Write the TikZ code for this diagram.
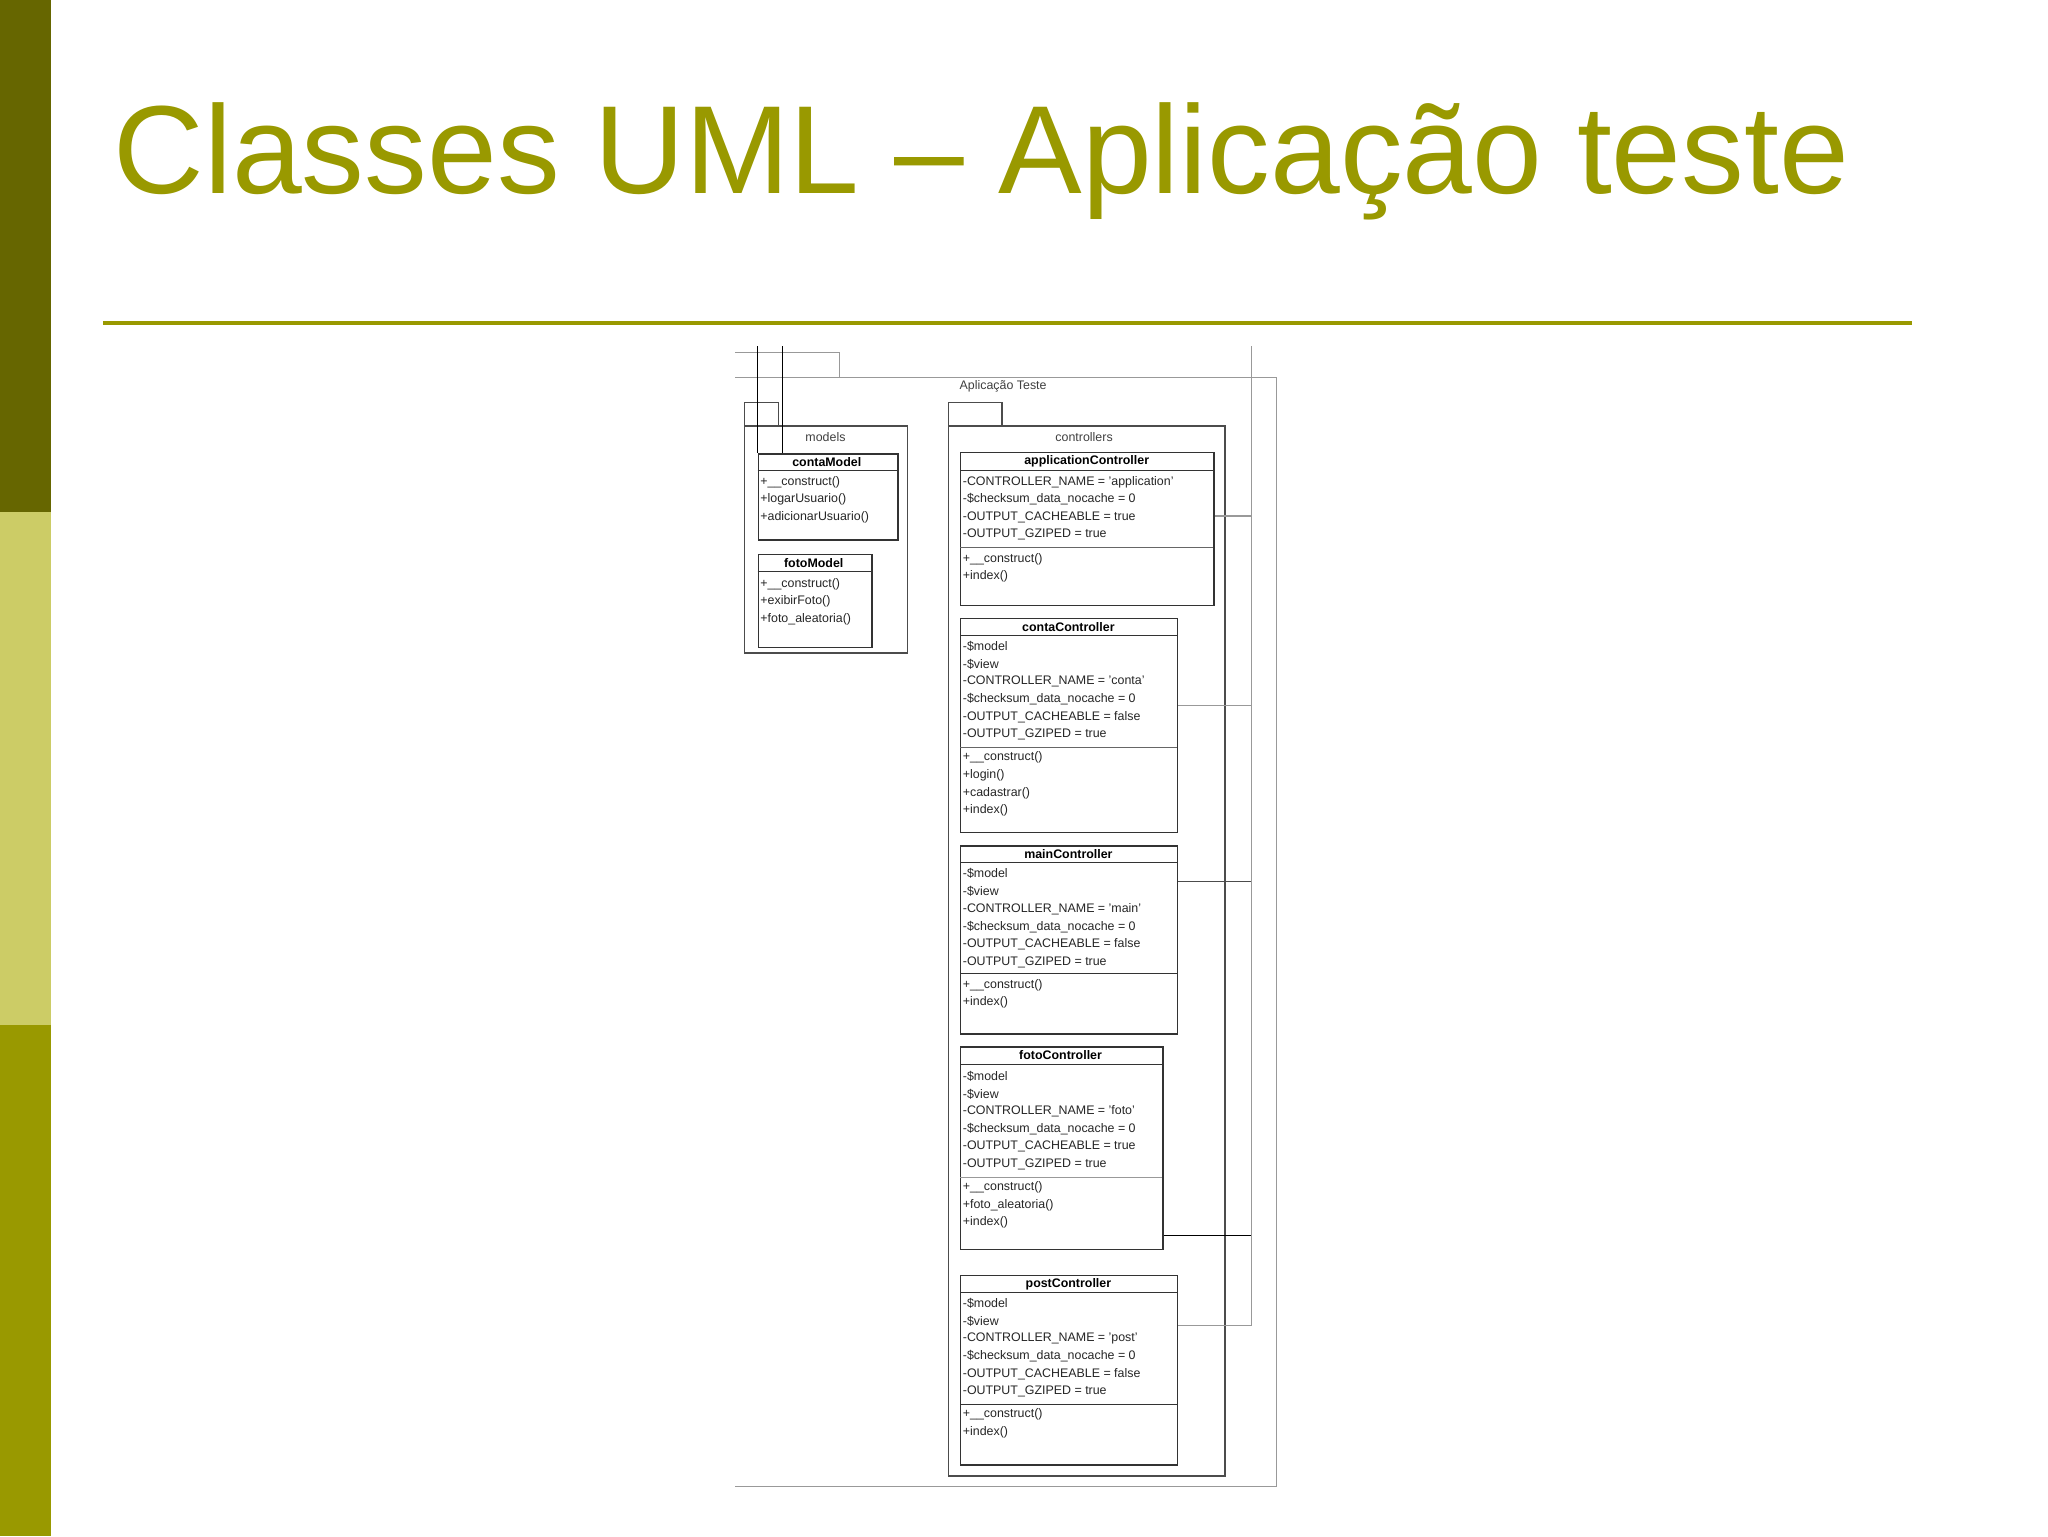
\documentclass[tikz,border=0pt]{standalone}
\usepackage{fontspec}
\setmainfont{Liberation Sans}
\definecolor{olive}{HTML}{999900}
\definecolor{darkolive}{HTML}{666600}
\definecolor{lightolive}{HTML}{CCCC66}
\definecolor{pkg}{HTML}{999999}
\begin{document}
\begin{tikzpicture}[x=1pt,y=-1pt,
  cls/.style={draw=black!80,line width=1.1pt,anchor=north west,inner sep=0pt},
  pk/.style={draw=black!70,line width=1.1pt},
  gl/.style={draw=pkg,line width=0.9pt},
  txt/.style={anchor=west,inner sep=0pt,font=\fontsize{9.5}{10}\selectfont,text=black!85},
  hdr/.style={anchor=center,inner sep=0pt,font=\fontsize{9.5}{10}\selectfont\bfseries},
  lbl/.style={anchor=center,inner sep=0pt,font=\fontsize{9.5}{10}\selectfont,text=black!75}]
\useasboundingbox (0,0) rectangle (1568,1176);
\fill[white] (0,0) rectangle (1568,1176);
% left bar
\fill[darkolive] (0,0) rectangle (39,392);
\fill[lightolive] (0,392) rectangle (39,785);
\fill[olive] (0,785) rectangle (39,1176);
% title
\node[anchor=base west,inner sep=0pt,text=olive,font=\fontsize{96}{104}\selectfont] (title) at (87,148) {Classes UML – Aplicação teste};
\draw[olive,line width=3pt] (79,247) -- (1464,247);
% outer package
\draw[gl] (563,270) -- (643,270) -- (643,289);
\draw[gl] (563,289) -- (977,289) -- (977,1138) -- (563,1138);
\node[lbl] (app) at (768,296) {Aplicação Teste};
% models package
\draw[pk] (570,500) -- (570,308) -- (596,308) -- (596,326);
\draw[pk] (570,326) rectangle (695,500);
\node[lbl] (mlabel) at (632,335) {models};
% controllers package
\draw[pk] (726,1130) -- (726,308) -- (767,308) -- (767,326);
\draw[pk] (726,326) rectangle (938,1130);
\node[lbl] (clabel) at (830,335) {controllers};
% contaModel
\node[cls,minimum width=107pt,minimum height=66pt] (cm) at (580,347) {};
\draw[black!80] (580,360) -- (687,360);
\node[hdr] at (633,354) {contaModel};
\foreach \t [count=\i] in {+\_\_construct(),+logarUsuario(),+adicionarUsuario()}
  \node[txt] at (582,355.5+13.5*\i) {\t};
% fotoModel
\node[cls,minimum width=87pt,minimum height=71pt] (fm) at (580,424) {};
\draw[black!80] (580,437) -- (667,437);
\node[hdr] at (623,431) {fotoModel};
\foreach \t [count=\i] in {+\_\_construct(),+exibirFoto(),+foto\_aleatoria()}
  \node[txt] at (582,433.5+13.5*\i) {\t};
% black lines from top
\draw[black,line width=1.1pt] (580,265) -- (cm.north west);
\draw[black,line width=1.1pt] (599,265) -- (599,347);
% applicationController
\node[cls,minimum width=194pt,minimum height=117pt] (ac) at (735,346) {};
\node[hdr] at (832,353) {applicationController};
\draw[black!80] (735,360) -- (929,360);
\foreach \t [count=\i] in {-CONTROLLER\_NAME = 'application',-\$checksum\_data\_nocache = 0,-OUTPUT\_CACHEABLE = true,-OUTPUT\_GZIPED = true}
  \node[txt] at (737,355.5+13.5*\i) {\t};
\draw[black!60] (735,419) -- (929,419);
\foreach \t [count=\i] in {+\_\_construct(),+index()}
  \node[txt] at (737,414.5+13.5*\i) {\t};
% contaController
\node[cls,minimum width=166pt,minimum height=164pt] (cc) at (735,473) {};
\node[hdr] at (818,480) {contaController};
\draw[black!80] (735,486) -- (901,486);
\foreach \t [count=\i] in {-\$model,-\$view,-CONTROLLER\_NAME = 'conta',-\$checksum\_data\_nocache = 0,-OUTPUT\_CACHEABLE = false,-OUTPUT\_GZIPED = true}
  \node[txt] at (737,481.5+13.5*\i) {\t};
\draw[black!60] (735,572) -- (901,572);
\foreach \t [count=\i] in {+\_\_construct(),+login(),+cadastrar(),+index()}
  \node[txt] at (737,566.5+13.5*\i) {\t};
% mainController
\node[cls,minimum width=166pt,minimum height=144pt] (mc) at (735,647) {};
\node[hdr] at (818,654) {mainController};
\draw[black!80] (735,660) -- (901,660);
\foreach \t [count=\i] in {-\$model,-\$view,-CONTROLLER\_NAME = 'main',-\$checksum\_data\_nocache = 0,-OUTPUT\_CACHEABLE = false,-OUTPUT\_GZIPED = true}
  \node[txt] at (737,655.5+13.5*\i) {\t};
\draw[black!80] (735,745) -- (901,745);
\foreach \t [count=\i] in {+\_\_construct(),+index()}
  \node[txt] at (737,740.5+13.5*\i) {\t};
% fotoController
\node[cls,minimum width=155pt,minimum height=155pt] (fc) at (735,801) {};
\node[hdr] at (812,808) {fotoController};
\draw[black!80] (735,815) -- (890,815);
\foreach \t [count=\i] in {-\$model,-\$view,-CONTROLLER\_NAME = 'foto',-\$checksum\_data\_nocache = 0,-OUTPUT\_CACHEABLE = true,-OUTPUT\_GZIPED = true}
  \node[txt] at (737,810.5+13.5*\i) {\t};
\draw[black!40] (735,901) -- (890,901);
\foreach \t [count=\i] in {+\_\_construct(),+foto\_aleatoria(),+index()}
  \node[txt] at (737,895.5+13.5*\i) {\t};
% postController
\node[cls,minimum width=166pt,minimum height=145pt] (pc) at (735,976) {};
\node[hdr] at (818,983) {postController};
\draw[black!80] (735,989) -- (901,989);
\foreach \t [count=\i] in {-\$model,-\$view,-CONTROLLER\_NAME = 'post',-\$checksum\_data\_nocache = 0,-OUTPUT\_CACHEABLE = false,-OUTPUT\_GZIPED = true}
  \node[txt] at (737,984.5+13.5*\i) {\t};
\draw[black!80] (735,1075) -- (901,1075);
\foreach \t [count=\i] in {+\_\_construct(),+index()}
  \node[txt] at (737,1069.5+13.5*\i) {\t};
% connectors to bus
\coordinate (btop) at (958,265);
\coordinate (bbot) at (958,1015);
\draw[gl] (btop) -- (bbot);
\draw[gl] (ac.east |- 0,395) -- (958,395);
\draw[gl] (cc.east |- 0,540) -- (958,540);
\draw[black!70,line width=0.9pt] (mc.east |- 0,675) -- (958,675);
\draw[black,line width=1.3pt] (fc.east |- 0,946) -- (958,946);
\draw[gl] (pc.east |- 0,1015) -- (bbot);
\end{tikzpicture}
\end{document}
